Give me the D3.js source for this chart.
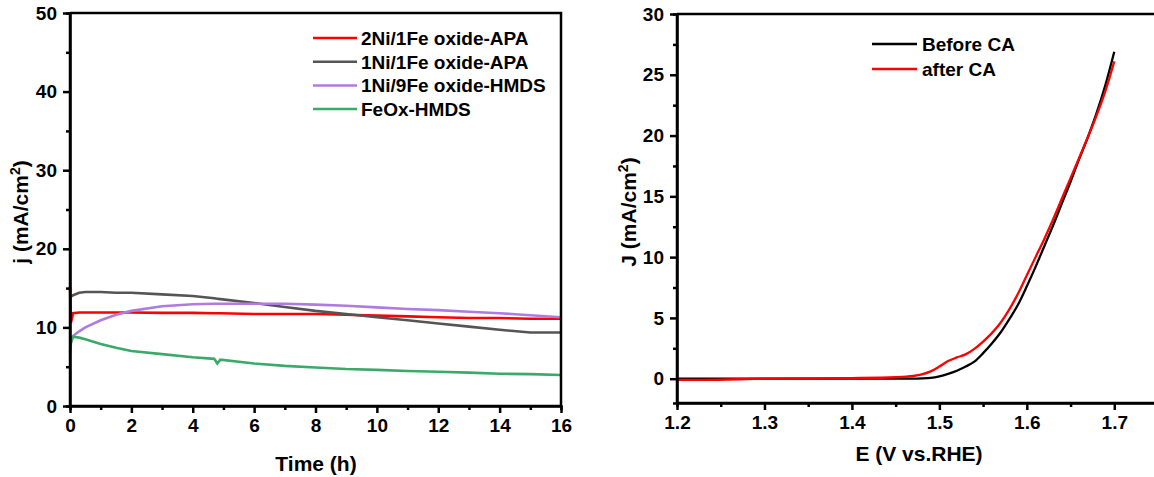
<!DOCTYPE html>
<html>
<head>
<meta charset="utf-8">
<script src="https://cdn.jsdelivr.net/npm/d3@7"></script>
<style>
  body { margin: 0; background: #fff; }
  svg { display: block; font-family: "Liberation Sans", Arial, sans-serif; }
  .tick text { font-weight: bold; font-size: 19px; fill: #000; }
  .domain, .tick line { stroke: #000; stroke-width: 2.5px; }
</style>
</head>
<body>
<svg id="chart" width="1154" height="477"></svg>
<script>
// ---- left panel: chronoamperometry ----
var timeH = [0, 0.03, 0.1, 0.3, 0.5, 1, 1.5, 2, 3, 4, 4.7, 4.8, 4.9, 6, 7, 8, 9, 10, 11, 12, 13, 14, 15, 16];
var ni2fe1 = [15.2, 10.6, 11.8, 11.9, 11.9, 11.9, 11.9, 11.9, 11.85, 11.85, 11.8, 11.8, 11.8, 11.7, 11.7, 11.7, 11.6, 11.5, 11.4, 11.3, 11.2, 11.2, 11.1, 11.1];
var ni1fe1 = [13.6, 13.9, 14.1, 14.4, 14.5, 14.5, 14.4, 14.4, 14.2, 14.0, 13.7, 13.65, 13.6, 13.1, 12.6, 12.1, 11.7, 11.3, 10.9, 10.5, 10.1, 9.7, 9.35, 9.35];
var ni1fe9 = [8.4, 8.6, 8.9, 9.5, 10.0, 10.9, 11.6, 12.1, 12.7, 12.95, 13.0, 13.0, 13.0, 13.0, 13.0, 12.9, 12.75, 12.55, 12.35, 12.2, 12.0, 11.8, 11.55, 11.3];
var feox = [6.8, 8.0, 8.8, 8.7, 8.5, 7.9, 7.4, 7.0, 6.6, 6.2, 6.0, 5.4, 5.9, 5.4, 5.1, 4.9, 4.7, 4.6, 4.45, 4.35, 4.25, 4.1, 4.05, 3.95];
var caNames = ["2Ni/1Fe oxide-APA", "1Ni/1Fe oxide-APA", "1Ni/9Fe oxide-HMDS", "FeOx-HMDS"];
var caColors = ["#ff0000", "#555555", "#b07be0", "#3aaa6a"];
var timeTicks = [0, 2, 4, 6, 8, 10, 12, 14, 16];
var jTicks = [0, 10, 20, 30, 40, 50];

// ---- right panel: polarization curves ----
var potential = [1.2, 1.23, 1.3, 1.4, 1.45, 1.47, 1.48, 1.49, 1.50, 1.51, 1.52, 1.53, 1.54, 1.55, 1.56, 1.57, 1.58, 1.59, 1.60, 1.61, 1.62, 1.63, 1.64, 1.65, 1.66, 1.67, 1.68, 1.69, 1.70];
var beforeCA = [0, 0, 0, 0, 0, 0, 0.02, 0.07, 0.2, 0.4, 0.65, 1.0, 1.4, 2.1, 2.9, 3.8, 4.9, 6.1, 7.6, 9.2, 10.9, 12.6, 14.4, 16.2, 18.1, 19.9, 21.9, 24.2, 26.9];
var afterCA = [-0.1, -0.1, 0, 0.05, 0.12, 0.22, 0.35, 0.6, 1.0, 1.45, 1.75, 2.0, 2.45, 3.05, 3.75, 4.6, 5.7, 7.0, 8.5, 10.0, 11.5, 13.1, 14.8, 16.5, 18.2, 19.9, 21.7, 23.7, 26.1];
var lsvNames = ["Before CA", "after CA"];
var lsvColors = ["#000000", "#ff0000"];
var eTicks = [1.2, 1.3, 1.4, 1.5, 1.6, 1.7];
var JTicks = [0, 5, 10, 15, 20, 25, 30];

var svg = d3.select("#chart");

function frame(g, x, y, minorX, minorY, fmtX) {
  var r = x.range(), t = y.range();
  g.append("g").attr("transform", "translate(0," + t[0] + ")")
    .call(d3.axisBottom(x).tickValues(minorX).tickSize(4).tickFormat(""));
  g.append("g").attr("transform", "translate(" + r[0] + ",0)")
    .call(d3.axisLeft(y).tickValues(minorY).tickSize(4).tickFormat(""));
  g.append("g").attr("transform", "translate(0," + t[0] + ")")
    .call(d3.axisBottom(x).tickValues(x.ticksUsed).tickSize(7).tickPadding(6).tickFormat(fmtX))
    .call(function(a) { a.select(".domain").attr("d", "M" + r[0] + ",0H" + r[1]); });
  g.append("g").attr("transform", "translate(" + r[0] + ",0)")
    .call(d3.axisLeft(y).tickValues(y.ticksUsed).tickSize(7).tickPadding(6))
    .call(function(a) { a.select(".domain").attr("d", "M0," + t[0] + "V" + t[1]); });
  g.append("path")
    .attr("d", "M" + r[0] + "," + t[1] + "H" + r[1] + "V" + t[0])
    .attr("fill", "none").attr("stroke", "#000").attr("stroke-width", 2.5);
}

function yTitle(g, x, y, letter) {
  var t = g.append("text").attr("transform", "translate(" + x + "," + y + ") rotate(-90)")
    .attr("text-anchor", "middle").attr("font-weight", "bold").attr("font-size", 21);
  t.append("tspan").text(letter + " (mA/cm");
  t.append("tspan").attr("dy", -8).attr("font-size", 14).text("2");
  t.append("tspan").attr("dy", 8).text(")");
}

// left
var xL = d3.scaleLinear().domain([0, 16]).range([70, 561]);
var yL = d3.scaleLinear().domain([0, 50]).range([406, 13]);
xL.ticksUsed = timeTicks; yL.ticksUsed = jTicks;
var gL = svg.append("g");
var lineL = d3.line().x(function(d) { return xL(d[0]); }).y(function(d) { return yL(d[1]); });
[ni2fe1, ni1fe1, ni1fe9, feox].forEach(function(s, i) {
  gL.append("path")
    .datum(timeH.map(function(t, k) { return [t, s[k]]; }))
    .attr("d", lineL).attr("fill", "none")
    .attr("stroke", caColors[i]).attr("stroke-width", 2.6);
});
frame(gL, xL, yL, d3.range(1, 16, 2), d3.range(5, 50, 10), d3.format("d"));

var legL = gL.append("g").attr("font-weight", "bold").attr("font-size", 19);
caNames.forEach(function(n, i) {
  var yy = 38 + i * 23.7;
  legL.append("line").attr("x1", 313).attr("x2", 357).attr("y1", yy).attr("y2", yy)
    .attr("stroke", caColors[i]).attr("stroke-width", 2.5);
  legL.append("text").attr("x", 361).attr("y", yy + 7).text(n);
});

gL.append("text").attr("x", 316).attr("y", 471).attr("text-anchor", "middle")
  .attr("font-weight", "bold").attr("font-size", 21).text("Time (h)");
yTitle(gL, 28, 212, "j");

// right
var xR = d3.scaleLinear().domain([1.2, 1.75]).range([677, 1158]);
var yR = d3.scaleLinear().domain([-2, 30]).range([403, 14]);
xR.ticksUsed = eTicks; yR.ticksUsed = JTicks;
var gR = svg.append("g");
var lineR = d3.line().x(function(d) { return xR(d[0]); }).y(function(d) { return yR(d[1]); })
  .curve(d3.curveMonotoneX);
[beforeCA, afterCA].forEach(function(s, i) {
  gR.append("path")
    .datum(potential.map(function(e, k) { return [e, s[k]]; }))
    .attr("d", lineR).attr("fill", "none")
    .attr("stroke", lsvColors[i]).attr("stroke-width", 2.3);
});
frame(gR, xR, yR, d3.range(1.25, 1.76, 0.1), d3.range(2.5, 30, 5), d3.format(".1f"));

var legR = gR.append("g").attr("font-weight", "bold").attr("font-size", 19);
lsvNames.forEach(function(n, i) {
  var yy = 44 + i * 25;
  legR.append("line").attr("x1", 872).attr("x2", 917).attr("y1", yy).attr("y2", yy)
    .attr("stroke", lsvColors[i]).attr("stroke-width", 2.5);
  legR.append("text").attr("x", 922).attr("y", yy + 7).text(n);
});

gR.append("text").attr("x", 919).attr("y", 461).attr("text-anchor", "middle")
  .attr("font-weight", "bold").attr("font-size", 21).text("E (V vs.RHE)");
yTitle(gR, 636, 212, "J");
</script>
</body>
</html>
